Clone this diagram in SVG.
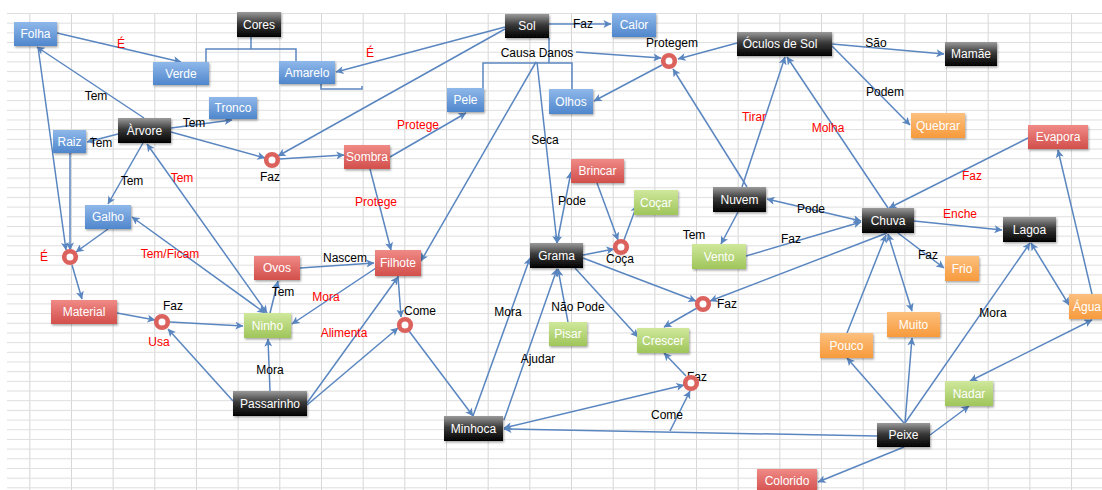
<svg xmlns="http://www.w3.org/2000/svg" width="1102" height="490" viewBox="0 0 1102 490">
<defs>
<pattern id="grid" patternUnits="userSpaceOnUse" x="29.3" y="13" width="41.67" height="9.68">
<rect x="0" y="0" width="1" height="9.68" fill="#d6d6d6"/>
<rect x="0" y="0" width="41.67" height="1" fill="#dedede"/>
</pattern>
<linearGradient id="gBlue" x1="0" y1="0" x2="0" y2="1"><stop offset="0" stop-color="#8fb8ea"/><stop offset="1" stop-color="#4f86cc"/></linearGradient>
<linearGradient id="gBlack" x1="0" y1="0" x2="0" y2="1"><stop offset="0" stop-color="#9a9a9a"/><stop offset="0.45" stop-color="#3a3a3a"/><stop offset="1" stop-color="#000"/></linearGradient>
<linearGradient id="gRed" x1="0" y1="0" x2="0" y2="1"><stop offset="0" stop-color="#f08a86"/><stop offset="1" stop-color="#d24f4b"/></linearGradient>
<linearGradient id="gGreen" x1="0" y1="0" x2="0" y2="1"><stop offset="0" stop-color="#cfe89c"/><stop offset="1" stop-color="#9fc55a"/></linearGradient>
<linearGradient id="gOrange" x1="0" y1="0" x2="0" y2="1"><stop offset="0" stop-color="#fcc07e"/><stop offset="1" stop-color="#f79a3c"/></linearGradient>
<filter id="sh" x="-20%" y="-30%" width="140%" height="170%"><feDropShadow dx="1" dy="1.5" stdDeviation="1" flood-color="#000" flood-opacity="0.35"/></filter>
<marker id="ah" viewBox="0 0 10 10" refX="9.5" refY="5" markerUnits="userSpaceOnUse" markerWidth="9" markerHeight="8" orient="auto-start-reverse">
<path d="M0,0 L10,5 L0,10 L2.5,5 z" fill="#5a86c0"/>
</marker>
</defs>
<style>
.nd rect{stroke:none;filter:url(#sh)}
.nd text{fill:#fff;font-family:"Liberation Sans",Arial,sans-serif;font-size:12px;text-anchor:middle}
.b{fill:url(#gBlue)}.k{fill:url(#gBlack)}.r{fill:url(#gRed)}.g{fill:url(#gGreen)}.o{fill:url(#gOrange)}
.ring circle{fill:#fff;stroke:#dc625e;stroke-width:4.6}
#edges line,#edges path{stroke:#5a86c0;stroke-width:1.5;fill:none}
#edges .a{marker-end:url(#ah)}
#edges .d{marker-end:url(#ah);marker-start:url(#ah)}
.lb{font-family:"Liberation Sans",Arial,sans-serif;font-size:12px;text-anchor:middle;fill:#000}
.lr{font-family:"Liberation Sans",Arial,sans-serif;font-size:12px;text-anchor:middle;fill:#f00}
</style>
<rect x="0" y="0" width="1102" height="490" fill="#fff"/>
<rect x="7" y="13" width="1095" height="477" fill="url(#grid)"/>

<g id="edges">
<line class="a" x1="57" y1="33" x2="181" y2="62"/>
<path d="M251,37 V49 M206,62 V49 H296 V61"/>
<path d="M321,83 V89 H362 V86"/>
<line class="a" x1="505" y1="27" x2="336" y2="72"/>
<line class="a" x1="505" y1="29" x2="278" y2="156"/>
<line class="a" x1="549" y1="24" x2="611" y2="24"/>
<path d="M549,38 V63 M483,88 V63 H572 V89"/>
<line class="a" x1="576" y1="52" x2="661" y2="58"/>
<line class="a" x1="737" y1="43" x2="678" y2="59"/>
<line class="a" x1="662" y1="65" x2="594" y2="101"/>
<line class="a" x1="747" y1="187" x2="673" y2="69"/>
<line class="a" x1="742" y1="187" x2="785" y2="57"/>
<line class="a" x1="888" y1="208" x2="787" y2="57"/>
<line class="a" x1="832" y1="44" x2="944" y2="54"/>
<line class="a" x1="832" y1="46" x2="910" y2="125"/>
<line class="a" x1="1028" y1="138" x2="889" y2="208"/>
<line class="a" x1="1092" y1="294" x2="1058" y2="150"/>
<line class="d" x1="767" y1="199" x2="861" y2="221"/>
<line class="a" x1="738" y1="212" x2="721" y2="244"/>
<line class="a" x1="746" y1="256" x2="861" y2="222"/>
<line class="a" x1="887" y1="233" x2="710" y2="301"/>
<line class="a" x1="914" y1="221" x2="1002" y2="230"/>
<line class="a" x1="898" y1="233" x2="944" y2="268"/>
<line class="d" x1="888" y1="234" x2="912" y2="311"/>
<line class="a" x1="847" y1="333" x2="886" y2="235"/>
<line class="d" x1="1031" y1="243" x2="1069" y2="305"/>
<line class="a" x1="905" y1="423" x2="1030" y2="243"/>
<line class="a" x1="905" y1="423" x2="912" y2="338"/>
<line class="a" x1="904" y1="423" x2="847" y2="358"/>
<line class="a" x1="930" y1="435" x2="969" y2="406"/>
<line class="d" x1="1092" y1="320" x2="970" y2="381"/>
<line class="a" x1="904" y1="447" x2="818" y2="482"/>
<line class="a" x1="877" y1="436" x2="504" y2="429"/>
<line class="a" x1="670" y1="431" x2="690" y2="391"/>
<line class="d" x1="504" y1="428" x2="684" y2="385"/>
<line class="a" x1="686" y1="376" x2="664" y2="353"/>
<line class="a" x1="697" y1="308" x2="664" y2="327"/>
<line class="a" x1="583" y1="258" x2="696" y2="301"/>
<line class="a" x1="575" y1="268" x2="638" y2="337"/>
<line class="a" x1="583" y1="255" x2="614" y2="249"/>
<line class="a" x1="624" y1="240" x2="637" y2="205"/>
<line class="a" x1="597" y1="183" x2="618" y2="240"/>
<line class="d" x1="557" y1="243" x2="571" y2="172"/>
<line class="a" x1="537" y1="62" x2="557" y2="243"/>
<line class="a" x1="536" y1="62" x2="421" y2="261"/>
<line class="a" x1="473" y1="416" x2="530" y2="258"/>
<line class="a" x1="504" y1="420" x2="557" y2="269"/>
<line class="a" x1="568" y1="322" x2="558" y2="269"/>
<line class="a" x1="409" y1="331" x2="473" y2="416"/>
<line class="a" x1="171" y1="132" x2="265" y2="158"/>
<line class="a" x1="279" y1="159" x2="344" y2="155"/>
<line class="a" x1="390" y1="157" x2="466" y2="113"/>
<line class="a" x1="370" y1="169" x2="391" y2="250"/>
<line class="a" x1="171" y1="128" x2="232" y2="120"/>
<line class="a" x1="118" y1="134" x2="87" y2="142"/>
<line class="a" x1="144" y1="118" x2="37" y2="47"/>
<line class="a" x1="38" y1="47" x2="66" y2="250"/>
<line class="a" x1="70" y1="153" x2="70" y2="250"/>
<line class="a" x1="108" y1="229" x2="76" y2="252"/>
<line class="a" x1="143" y1="143" x2="108" y2="204"/>
<line class="d" x1="267" y1="313" x2="147" y2="144"/>
<line class="d" x1="265" y1="313" x2="132" y2="217"/>
<line class="a" x1="72" y1="265" x2="82" y2="299"/>
<line class="a" x1="117" y1="313" x2="155" y2="320"/>
<line class="a" x1="170" y1="322" x2="243" y2="326"/>
<line class="a" x1="233" y1="401" x2="168" y2="329"/>
<line class="a" x1="270" y1="391" x2="268" y2="339"/>
<line class="a" x1="270" y1="313" x2="278" y2="281"/>
<line class="a" x1="300" y1="268" x2="374" y2="263"/>
<line class="a" x1="376" y1="268" x2="292" y2="324"/>
<line class="a" x1="307" y1="403" x2="398" y2="277"/>
<line class="a" x1="307" y1="405" x2="398" y2="328"/>
<line class="a" x1="398" y1="276" x2="401" y2="317"/>
</g>

<g id="labels">
<text class="lr" x="121" y="48">É</text>
<text class="lr" x="370" y="57">É</text>
<text class="lr" x="44" y="261">É</text>
<text class="lb" x="96" y="100">Tem</text>
<text class="lb" x="194" y="127">Tem</text>
<text class="lb" x="101" y="147">Tem</text>
<text class="lb" x="270" y="181">Faz</text>
<text class="lb" x="132" y="185">Tem</text>
<text class="lr" x="182" y="182">Tem</text>
<text class="lr" x="170" y="258">Tem/Ficam</text>
<text class="lr" x="376" y="206">Protege</text>
<text class="lr" x="418" y="129">Protege</text>
<text class="lb" x="345" y="262">Nascem</text>
<text class="lb" x="283" y="296">Tem</text>
<text class="lr" x="326" y="301">Mora</text>
<text class="lb" x="173" y="310">Faz</text>
<text class="lr" x="159" y="346">Usa</text>
<text class="lb" x="270" y="374">Mora</text>
<text class="lr" x="344" y="337">Alimenta</text>
<text class="lb" x="420" y="315">Come</text>
<text class="lb" x="537" y="57">Causa Danos</text>
<text class="lb" x="583" y="28">Faz</text>
<text class="lb" x="672" y="47">Protegem</text>
<text class="lb" x="545" y="144">Seca</text>
<text class="lb" x="876" y="47">São</text>
<text class="lb" x="885" y="96">Podem</text>
<text class="lr" x="754" y="121">Tirar</text>
<text class="lr" x="828" y="132">Molha</text>
<text class="lb" x="572" y="205">Pode</text>
<text class="lb" x="620" y="263">Coça</text>
<text class="lb" x="694" y="239">Tem</text>
<text class="lb" x="508" y="316">Mora</text>
<text class="lb" x="578" y="311">Não Pode</text>
<text class="lb" x="727" y="308">Faz</text>
<text class="lb" x="538" y="363">Ajudar</text>
<text class="lb" x="697" y="381">Faz</text>
<text class="lb" x="667" y="419">Come</text>
<text class="lr" x="972" y="180">Faz</text>
<text class="lb" x="811" y="213">Pode</text>
<text class="lr" x="960" y="218">Enche</text>
<text class="lb" x="791" y="243">Faz</text>
<text class="lb" x="928" y="259">Faz</text>
<text class="lb" x="993" y="317">Mora</text>
</g>

<g id="c-faz1" class="ring"><circle cx="272" cy="160" r="5.8"/></g>
<g id="c-protegem" class="ring"><circle cx="669" cy="61" r="5.8"/></g>
<g id="c-e" class="ring"><circle cx="70" cy="257" r="5.8"/></g>
<g id="c-usa" class="ring"><circle cx="162" cy="322" r="5.8"/></g>
<g id="c-come" class="ring"><circle cx="405" cy="325" r="5.8"/></g>
<g id="c-coca" class="ring"><circle cx="621" cy="247" r="5.8"/></g>
<g id="c-faz2" class="ring"><circle cx="703" cy="304" r="5.8"/></g>
<g id="c-faz3" class="ring"><circle cx="691" cy="383" r="5.8"/></g>

<g id="n-folha" class="nd"><rect class="b" x="14" y="22" width="43" height="24"/><text x="35.5" y="38">Folha</text></g>
<g id="n-cores" class="nd"><rect class="k" x="237" y="12" width="44" height="25"/><text x="259" y="29">Cores</text></g>
<g id="n-verde" class="nd"><rect class="b" x="153" y="62" width="56" height="23"/><text x="181" y="78">Verde</text></g>
<g id="n-amarelo" class="nd"><rect class="b" x="279" y="61" width="56" height="23"/><text x="307" y="77">Amarelo</text></g>
<g id="n-tronco" class="nd"><rect class="b" x="209" y="97" width="48" height="22"/><text x="233" y="112">Tronco</text></g>
<g id="n-arvore" class="nd"><rect class="k" x="118" y="118" width="53" height="25"/><text x="144.5" y="135">Àrvore</text></g>
<g id="n-raiz" class="nd"><rect class="b" x="53" y="130" width="33" height="23"/><text x="69.5" y="146">Raiz</text></g>
<g id="n-sombra" class="nd"><rect class="r" x="344" y="145" width="46" height="24"/><text x="367" y="161">Sombra</text></g>
<g id="n-sol" class="nd"><rect class="k" x="505" y="14" width="44" height="24"/><text x="527" y="30">Sol</text></g>
<g id="n-calor" class="nd"><rect class="b" x="612" y="13" width="44" height="24"/><text x="634" y="29">Calor</text></g>
<g id="n-pele" class="nd"><rect class="b" x="447" y="88" width="37" height="24"/><text x="465.5" y="104">Pele</text></g>
<g id="n-olhos" class="nd"><rect class="b" x="549" y="89" width="44" height="25"/><text x="571" y="106">Olhos</text></g>
<g id="n-oculos" class="nd"><rect class="k" x="737" y="32" width="95" height="24"/><text x="780" y="48">Óculos de Sol</text></g>
<g id="n-mamae" class="nd"><rect class="k" x="945" y="42" width="52" height="24"/><text x="971" y="58">Mamãe</text></g>
<g id="n-quebrar" class="nd"><rect class="o" x="911" y="113" width="54" height="25"/><text x="938" y="130">Quebrar</text></g>
<g id="n-evapora" class="nd"><rect class="r" x="1028" y="125" width="60" height="24"/><text x="1058" y="141">Evapora</text></g>
<g id="n-galho" class="nd"><rect class="b" x="85" y="205" width="46" height="24"/><text x="108" y="221">Galho</text></g>
<g id="n-material" class="nd"><rect class="r" x="51" y="300" width="66" height="24"/><text x="84" y="316">Material</text></g>
<g id="n-ovos" class="nd"><rect class="r" x="254" y="256" width="46" height="24"/><text x="277" y="272">Ovos</text></g>
<g id="n-ninho" class="nd"><rect class="g" x="244" y="313" width="47" height="25"/><text x="267.5" y="330">Ninho</text></g>
<g id="n-filhote" class="nd"><rect class="r" x="375" y="250" width="46" height="26"/><text x="398" y="267">Filhote</text></g>
<g id="n-passarinho" class="nd"><rect class="k" x="233" y="391" width="74" height="25"/><text x="270" y="408">Passarinho</text></g>
<g id="n-brincar" class="nd"><rect class="r" x="571" y="159" width="53" height="24"/><text x="597.5" y="175">Brincar</text></g>
<g id="n-cocar" class="nd"><rect class="g" x="634" y="190" width="44" height="25"/><text x="656" y="207">Coçar</text></g>
<g id="n-grama" class="nd"><rect class="k" x="530" y="243" width="53" height="25"/><text x="556.5" y="260">Grama</text></g>
<g id="n-nuvem" class="nd"><rect class="k" x="713" y="187" width="53" height="25"/><text x="739.5" y="204">Nuvem</text></g>
<g id="n-vento" class="nd"><rect class="g" x="692" y="244" width="54" height="25"/><text x="719" y="261">Vento</text></g>
<g id="n-chuva" class="nd"><rect class="k" x="862" y="208" width="52" height="25"/><text x="888" y="225">Chuva</text></g>
<g id="n-lagoa" class="nd"><rect class="k" x="1003" y="217" width="53" height="25"/><text x="1029.5" y="234">Lagoa</text></g>
<g id="n-frio" class="nd"><rect class="o" x="945" y="256" width="34" height="25"/><text x="962" y="273">Frio</text></g>
<g id="n-muito" class="nd"><rect class="o" x="887" y="312" width="53" height="25"/><text x="913.5" y="329">Muito</text></g>
<g id="n-agua" class="nd"><rect class="o" x="1069" y="294" width="36" height="25"/><text x="1087" y="311">Água</text></g>
<g id="n-pouco" class="nd"><rect class="o" x="820" y="333" width="53" height="25"/><text x="846.5" y="350">Pouco</text></g>
<g id="n-nadar" class="nd"><rect class="g" x="945" y="381" width="48" height="25"/><text x="969" y="398">Nadar</text></g>
<g id="n-peixe" class="nd"><rect class="k" x="877" y="423" width="53" height="24"/><text x="903.5" y="439">Peixe</text></g>
<g id="n-colorido" class="nd"><rect class="r" x="757" y="469" width="60" height="24"/><text x="787" y="485">Colorido</text></g>
<g id="n-minhoca" class="nd"><rect class="k" x="444" y="416" width="59" height="25"/><text x="473.5" y="433">Minhoca</text></g>
<g id="n-pisar" class="nd"><rect class="g" x="549" y="322" width="38" height="24"/><text x="568" y="338">Pisar</text></g>
<g id="n-crescer" class="nd"><rect class="g" x="637" y="328" width="52" height="25"/><text x="663" y="345">Crescer</text></g>
</svg>
